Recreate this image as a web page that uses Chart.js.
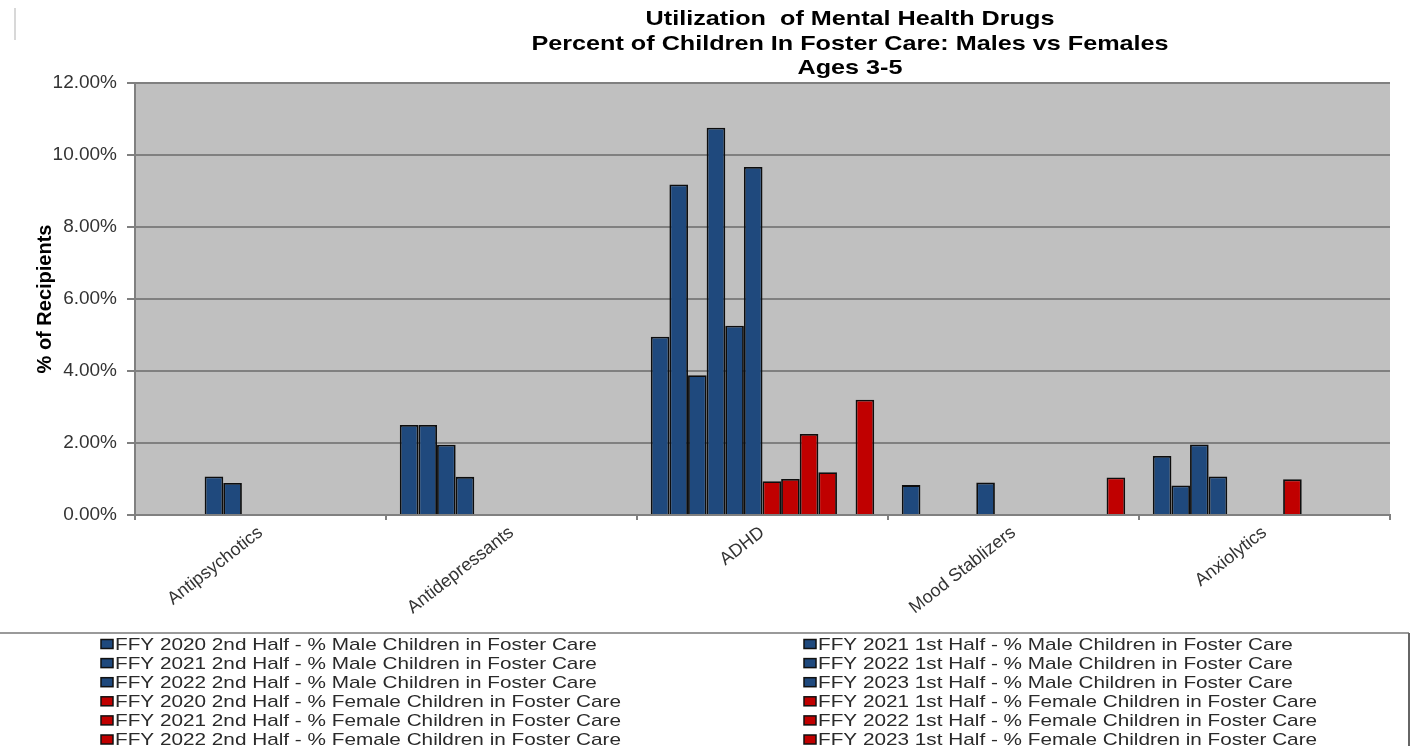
<!DOCTYPE html>
<html>
<head>
<meta charset="utf-8">
<script src="https://cdn.jsdelivr.net/npm/chart.js@4.4.0/dist/chart.umd.min.js"></script>
<style>
  html, body { margin: 0; padding: 0; background: #fff; }
  #wrap { width: 1411px; height: 746px; }
</style>
</head>
<body>
<div id="wrap"><canvas id="myChart" width="1411" height="746"></canvas></div>
<script>
var categories = ['Antipsychotics', 'Antidepressants', 'ADHD', 'Mood Stablizers', 'Anxiolytics'];

var titleLines = [
    'Utilization  of Mental Health Drugs',
    'Percent of Children In Foster Care: Males vs Females',
    'Ages 3-5'
];

// % of recipients, one entry per category (null = no bar)
var male2020h2 = [null, 2.5, 4.95, 0.83, 1.64];
var male2021h1 = [null, 2.5, 9.18, null, 0.82];
var male2021h2 = [null, 1.95, 3.88, null, 1.96];
var male2022h1 = [1.07, 1.06, 10.76, null, 1.07];
var male2022h2 = [0.89, null, 5.26, 0.9, null];
var male2023h1 = [null, null, 9.67, null, null];

var female2020h2 = [null, null, 0.94, null, null];
var female2021h1 = [null, null, 1.0, null, 0.99];
var female2021h2 = [null, null, 2.25, null, null];
var female2022h1 = [null, null, 1.19, null, null];
var female2022h2 = [null, null, null, null, null];
var female2023h1 = [null, null, 3.2, 1.04, null];

var yTicks = [0, 2, 4, 6, 8, 10, 12];

var BLUE = '#1F497D';
var RED = '#C00000';

function bars(label, data, color) {
    return {
        label: label,
        data: data,
        backgroundColor: color,
        borderColor: '#0d0d0d',
        borderWidth: 1.8,
        borderSkipped: 'bottom'
    };
}

var datasets = [
    bars('FFY 2020 2nd Half - % Male Children in Foster Care', male2020h2, BLUE),
    bars('FFY 2021 1st Half - % Male Children in Foster Care', male2021h1, BLUE),
    bars('FFY 2021 2nd Half - % Male Children in Foster Care', male2021h2, BLUE),
    bars('FFY 2022 1st Half - % Male Children in Foster Care', male2022h1, BLUE),
    bars('FFY 2022 2nd Half - % Male Children in Foster Care', male2022h2, BLUE),
    bars('FFY 2023 1st Half - % Male Children in Foster Care', male2023h1, BLUE),
    bars('FFY 2020 2nd Half - % Female Children in Foster Care', female2020h2, RED),
    bars('FFY 2021 1st Half - % Female Children in Foster Care', female2021h1, RED),
    bars('FFY 2021 2nd Half - % Female Children in Foster Care', female2021h2, RED),
    bars('FFY 2022 1st Half - % Female Children in Foster Care', female2022h1, RED),
    bars('FFY 2022 2nd Half - % Female Children in Foster Care', female2022h2, RED),
    bars('FFY 2023 1st Half - % Female Children in Foster Care', female2023h1, RED)
];

var FONT = '"Liberation Sans", Arial, sans-serif';

// text drawn a little wider than the font's natural width
function wideText(c, text, x, y, sx) {
    c.save();
    c.translate(x, y);
    c.scale(sx, 1);
    c.fillText(text, 0, 0);
    c.restore();
}

// grey plot area, title block and the boxed two-column legend
var excelLook = {
    id: 'excelLook',
    beforeDraw: function(chart) {
        var c = chart.ctx, a = chart.chartArea;
        c.save();
        c.fillStyle = '#ffffff';
        c.fillRect(0, 0, chart.width, chart.height);
        c.fillStyle = '#C0C0C0';
        c.fillRect(a.left, a.top, a.right - a.left, a.bottom - a.top);
        c.restore();
    },
    afterDraw: function(chart) {
        var c = chart.ctx;
        c.save();

        // thin line at the top-left edge
        c.strokeStyle = '#d8d8d8';
        c.lineWidth = 2;
        c.beginPath();
        c.moveTo(15, 8);
        c.lineTo(15, 40);
        c.stroke();

        // title
        c.fillStyle = '#000';
        c.font = 'bold 21px ' + FONT;
        c.textAlign = 'center';
        c.textBaseline = 'middle';
        var ty = [19, 44, 68];
        titleLines.forEach(function(t, i) {
            wideText(c, t, 850, ty[i], 1.2);
        });

        // legend box
        c.strokeStyle = '#9a9a9a';
        c.lineWidth = 2;
        c.beginPath();
        c.moveTo(0, 633);
        c.lineTo(1409, 633);
        c.stroke();
        c.strokeStyle = '#666';
        c.beginPath();
        c.moveTo(1409, 633);
        c.lineTo(1409, 746);
        c.stroke();

        c.font = '17px ' + FONT;
        c.textAlign = 'left';
        var colX = [101, 804];
        chart.data.datasets.forEach(function(ds, i) {
            var col = i % 2, row = Math.floor(i / 2);
            var x = colX[col], y = 644 + row * 19.1;
            c.fillStyle = ds.backgroundColor;
            c.fillRect(x, y - 4.5, 12, 9);
            c.strokeStyle = '#111';
            c.lineWidth = 1.5;
            c.strokeRect(x, y - 4.5, 12, 9);
            c.fillStyle = '#2a2a2a';
            wideText(c, ds.label, x + 14, y + 1, 1.22);
        });
        c.restore();
    }
};

var ctx = document.getElementById('myChart').getContext('2d');
var myChart = new Chart(ctx, {
    type: 'bar',
    data: {
        labels: categories,
        datasets: datasets
    },
    options: {
        responsive: false,
        animation: false,
        layout: {
            padding: { top: 83, right: 21, bottom: 113, left: 0 }
        },
        datasets: {
            bar: {
                categoryPercentage: 0.89,
                barPercentage: 1.0
            }
        },
        plugins: {
            legend: { display: false },
            title: { display: false },
            tooltip: { enabled: false }
        },
        scales: {
            x: {
                afterFit: function(scale) { scale.height = 118; },
                grid: {
                    offset: true,
                    drawOnChartArea: false,
                    color: '#808080',
                    lineWidth: 2,
                    tickLength: 5
                },
                border: { color: '#808080', width: 2 },
                ticks: {
                    minRotation: 38,
                    maxRotation: 38,
                    padding: 2,
                    color: '#333',
                    font: { family: FONT, size: 18 }
                }
            },
            y: {
                min: 0,
                max: 12,
                afterFit: function(scale) { scale.width = 135; },
                afterBuildTicks: function(scale) {
                    scale.ticks = yTicks.map(function(v) { return { value: v }; });
                },
                grid: {
                    color: '#808080',
                    lineWidth: 2,
                    tickLength: 8
                },
                border: { color: '#808080', width: 2 },
                ticks: {
                    padding: 10,
                    color: '#333',
                    font: { family: FONT, size: 19 },
                    callback: function(v) { return v.toFixed(2) + '%'; }
                },
                title: {
                    display: true,
                    text: '% of Recipients',
                    color: '#000',
                    font: { family: FONT, size: 20, weight: 'bold' },
                    padding: { top: 33 }
                }
            }
        }
    },
    plugins: [excelLook]
});
</script>
</body>
</html>
